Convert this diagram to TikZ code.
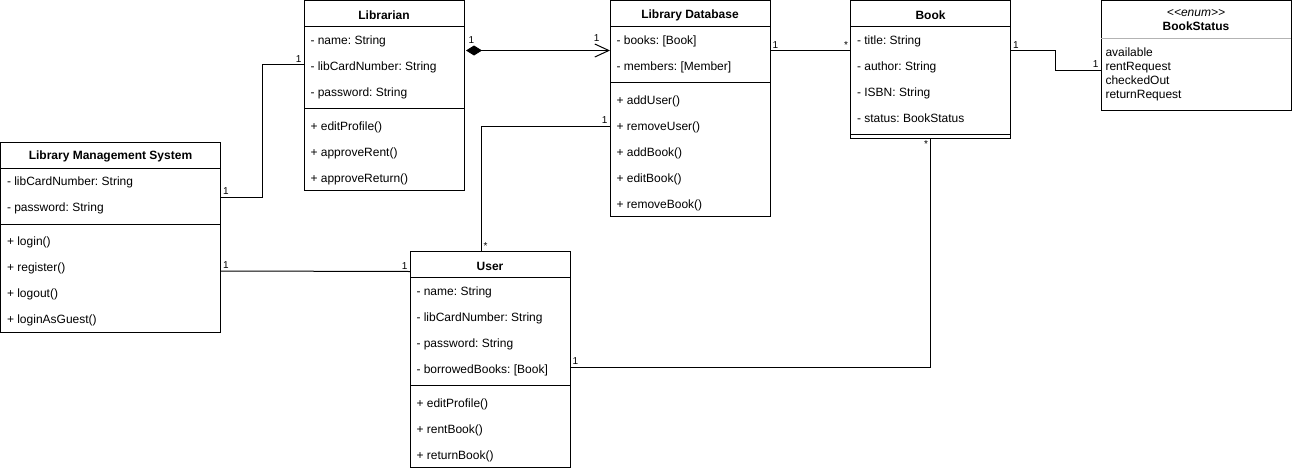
\documentclass[tikz,border=0pt]{standalone}
\usepackage{fontspec}
\setmainfont{Liberation Sans}
\definecolor{sepgray}{RGB}{179, 179, 179}
\usetikzlibrary{arrows.meta,calc}
\frenchspacing

\begin{document}
\begin{tikzpicture}[x=1pt, y=-1pt, line width=1pt,
    cls/.style 2 args={draw, rectangle, anchor=north west, inner sep=0pt, outer sep=0pt, minimum width=#1pt, minimum height=#2pt},
    clstitle/.style={font=\fontsize{12}{14}\selectfont\bfseries, inner sep=0pt},
    member/.style={anchor=west, font=\fontsize{12}{14}\selectfont, inner sep=0pt, text height=9pt, text depth=3pt},
    multlabel/.style={font=\fontsize{10}{12}\selectfont, inner sep=2pt}]
    \useasboundingbox (0,0) rectangle (1292,471);

    % Library Management System
    \node[cls={220}{190}] (lms) at (0.5,142) {};
    \node[clstitle] (lms-t) at ($(lms.north)+(0,14.5)$) {Library Management System};
    \draw ($(lms.north west)+(0,26)$) -- ($(lms.north east)+(0,26)$);
    \draw ($(lms.north west)+(0,82)$) -- ($(lms.north east)+(0,82)$);
    \foreach \txt [count=\i] in {- libCardNumber: String, - password: String}
        \node[member] (lms-a\i) at ($(lms.north west)+(6,14.5+26*\i)$) {\txt};
    \foreach \txt [count=\i] in {+ login(), + register(), + logout(), + loginAsGuest()}
        \node[member] (lms-m\i) at ($(lms.north west)+(6,74.5+26*\i)$) {\txt};

    % Librarian
    \node[cls={160}{190}] (lib) at (304,0.5) {};
    \node[clstitle] (lib-t) at ($(lib.north)+(0,14.5)$) {Librarian};
    \draw ($(lib.north west)+(0,26)$) -- ($(lib.north east)+(0,26)$);
    \draw ($(lib.north west)+(0,108)$) -- ($(lib.north east)+(0,108)$);
    \foreach \txt [count=\i] in {- name: String, - libCardNumber: String, - password: String}
        \node[member] (lib-a\i) at ($(lib.north west)+(6,14.5+26*\i)$) {\txt};
    \foreach \txt [count=\i] in {+ editProfile(), + approveRent(), + approveReturn()}
        \node[member] (lib-m\i) at ($(lib.north west)+(6,100.5+26*\i)$) {\txt};

    % Library Database
    \node[cls={160}{216}] (db) at (610,0.5) {};
    \node[clstitle] (db-t) at ($(db.north)+(0,14.5)$) {Library Database};
    \draw ($(db.north west)+(0,26)$) -- ($(db.north east)+(0,26)$);
    \draw ($(db.north west)+(0,82)$) -- ($(db.north east)+(0,82)$);
    \foreach \txt [count=\i] in {- books: [Book], - members: [Member]}
        \node[member] (db-a\i) at ($(db.north west)+(6,14.5+26*\i)$) {\txt};
    \foreach \txt [count=\i] in {+ addUser(), + removeUser(), + addBook(), + editBook(), + removeBook()}
        \node[member] (db-m\i) at ($(db.north west)+(6,74.5+26*\i)$) {\txt};

    % Book
    \node[cls={160}{138}] (book) at (850.5,0.5) {};
    \node[clstitle] (book-t) at ($(book.north)+(0,14.5)$) {Book};
    \draw ($(book.north west)+(0,26)$) -- ($(book.north east)+(0,26)$);
    \draw ($(book.north west)+(0,134)$) -- ($(book.north east)+(0,134)$);
    \foreach \txt [count=\i] in {- title: String, - author: String, - ISBN: String, - status: BookStatus}
        \node[member] (book-a\i) at ($(book.north west)+(6,14.5+26*\i)$) {\txt};

    % BookStatus enum
    \node[cls={190}{110}] (status) at (1101,0.5) {};
    \node[font=\fontsize{12}{14}\selectfont\itshape, inner sep=0pt] (status-s) at ($(status.north)+(0,12.5)$) {<{}<enum>{}>};
    \node[clstitle] (status-t) at ($(status.north)+(0,26)$) {BookStatus};
    \draw[sepgray] ($(status.north west)+(0,38)$) -- ($(status.north east)+(0,38)$);
    \foreach \txt [count=\i] in {available, rentRequest, checkedOut, returnRequest}
        \node[member, text height=8pt, text depth=3pt] (status-v\i) at ($(status.north west)+(4,39.5+14*\i)$) {\txt};

    % User
    \node[cls={160}{216}] (user) at (410,251.5) {};
    \node[clstitle] (user-t) at ($(user.north)+(0,14.5)$) {User};
    \draw ($(user.north west)+(0,26)$) -- ($(user.north east)+(0,26)$);
    \draw ($(user.north west)+(0,134)$) -- ($(user.north east)+(0,134)$);
    \foreach \txt [count=\i] in {- name: String, - libCardNumber: String, - password: String, - borrowedBooks: [Book]}
        \node[member] (user-a\i) at ($(user.north west)+(6,14.5+26*\i)$) {\txt};
    \foreach \txt [count=\i] in {+ editProfile(), + rentBook(), + returnBook()}
        \node[member] (user-m\i) at ($(user.north west)+(6,126.5+26*\i)$) {\txt};

    % associations
    \draw ($(lms.north east)+(0,55)$) node[multlabel, above right] (lms-lib-1) {1}
        -- ++(42,0) |- ($(lib.north west)+(0,64)$) node[multlabel, above left] (lms-lib-2) {1};
    \draw ($(lms.north east)+(0,129)$) node[multlabel, above right] (lms-user-1) {1}
        -- ($(user.north west)+(0,20)$) node[multlabel, above left] (lms-user-2) {1};
    \draw[{Diamond[length=16pt,width=10pt]}-{Straight Barb[length=14pt,width=13pt]}]
        ($(lib.north east)+(2,50)$) node[multlabel, above right, yshift=5pt] (lib-db-1) {1}
        -- ($(db.north west)+(0,50)$) node[multlabel, above left, xshift=-8pt, yshift=7pt] (lib-db-2) {1};
    \draw ($(db.north west)+(0,125.5)$) node[multlabel, above left] (db-user-1) {1}
        -| ($(user.north west)+(71,0)$) node[multlabel, above right] (db-user-2) {*};
    \draw ($(db.north east)+(0,50)$) node[multlabel, above right] (db-book-1) {1}
        -- ($(book.north west)+(0,50)$) node[multlabel, above left] (db-book-2) {*};
    \draw ($(book.north east)+(0,50)$) node[multlabel, above right] (book-status-1) {1}
        -- ++(45,0) |- ($(status.north west)+(0,69.5)$) node[multlabel, above left] (book-status-2) {1};
    \draw (book.south) node[multlabel, below left] (book-user-1) {*}
        |- ($(user.north east)+(0,115.5)$) node[multlabel, above right] (book-user-2) {1};
\end{tikzpicture}
\end{document}
